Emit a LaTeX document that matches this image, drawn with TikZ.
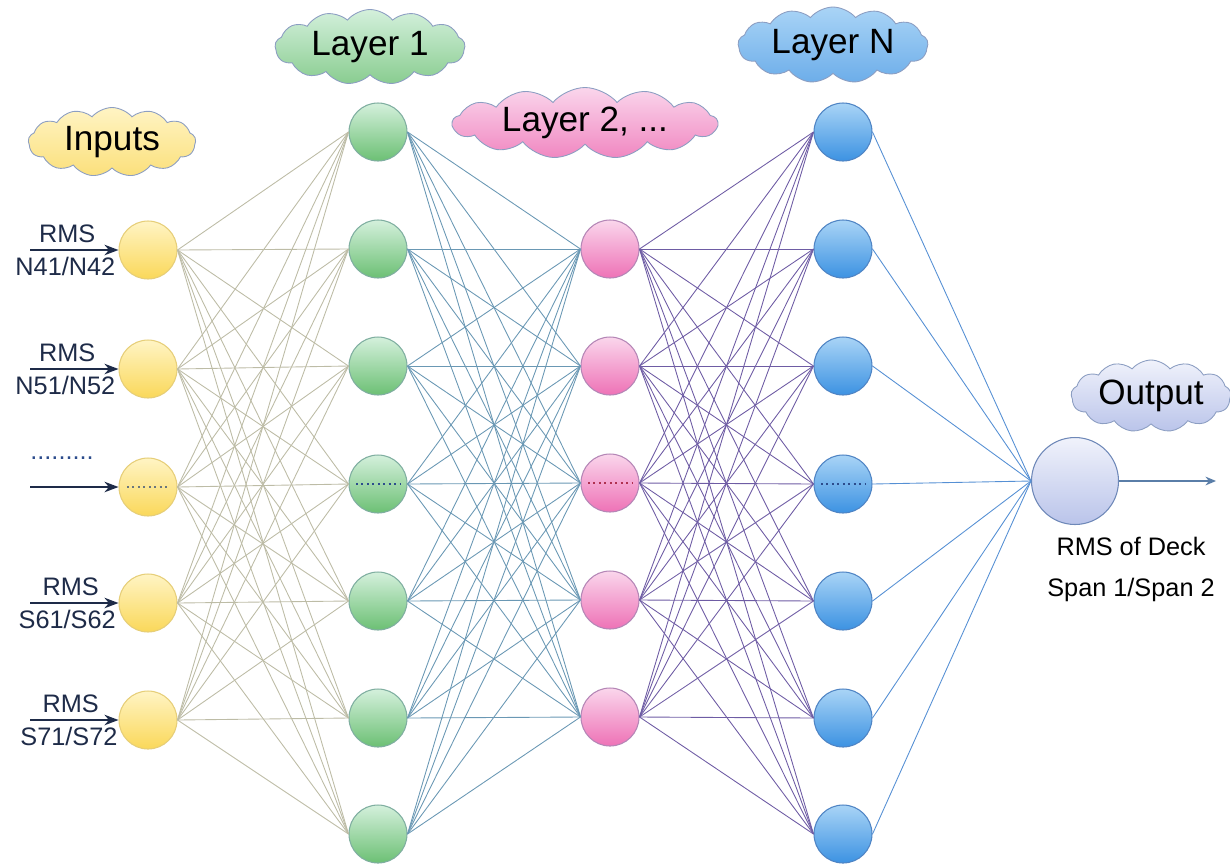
\documentclass[tikz,border=0pt]{standalone}
\usepackage{fontspec}
\setmainfont{Liberation Sans}
\usetikzlibrary{shapes.symbols,arrows.meta,positioning}

\definecolor{yeltop}{HTML}{FFF4C4}
\definecolor{yelbot}{HTML}{FAD85A}
\definecolor{yelrim}{HTML}{E6CE78}
\definecolor{grntop}{HTML}{D4F0DC}
\definecolor{grnbot}{HTML}{6CC074}
\definecolor{grnrim}{HTML}{7FAEA0}
\definecolor{pnktop}{HTML}{FAD6EC}
\definecolor{pnkbot}{HTML}{EE72B6}
\definecolor{pnkrim}{HTML}{B486B6}
\definecolor{blutop}{HTML}{A9D4F6}
\definecolor{blubot}{HTML}{3C92E2}
\definecolor{blurim}{HTML}{4F84C4}
\definecolor{lavtop}{HTML}{F0F2FB}
\definecolor{lavbot}{HTML}{BAC4EA}
\definecolor{lavrim}{HTML}{6E88B8}
\definecolor{cloudrim}{HTML}{8C9EC2}
\definecolor{wirea}{HTML}{BDBCA6}
\definecolor{wireb}{HTML}{6A98B4}
\definecolor{wirec}{HTML}{6E5CA4}
\definecolor{wired}{HTML}{5690D4}
\definecolor{inkarrow}{HTML}{1E2B48}
\definecolor{outarrow}{HTML}{5A7EA8}
\definecolor{dotblue}{HTML}{2C4C8C}
\definecolor{dotred}{HTML}{B03050}

\begin{document}
\begin{tikzpicture}[x=0.02cm,y=-0.02cm,
  neuron/.style={circle,line width=0.6pt,minimum size=1.16cm,inner sep=0pt},
  yelnode/.style={neuron,draw=yelrim,top color=yeltop,bottom color=yelbot},
  grnnode/.style={neuron,draw=grnrim,top color=grntop,bottom color=grnbot},
  pnknode/.style={neuron,draw=pnkrim,top color=pnktop,bottom color=pnkbot},
  blunode/.style={neuron,draw=blurim,top color=blutop,bottom color=blubot},
  bubble/.style={cloud,cloud puffs=13,cloud puff arc=100,cloud ignores aspect,draw=cloudrim,line width=0.5pt,
    inner sep=0pt,font=\fontsize{20}{24}\selectfont},
  lbl/.style={font=\fontsize{14.4}{17}\selectfont},
  feed/.style={-{Stealth[length=8pt,width=6pt]},line width=1.1pt,inkarrow},
  wire/.style={line width=0.5pt},
  gap/.style={dotted,line width=1.1pt}]
\useasboundingbox (0,0) rectangle (1230,863);

% titles
\node[bubble,top color=yeltop,bottom color=yelbot!80,minimum width=3.35cm,minimum height=1.38cm] (tin) at (112,142) {Inputs};
\node[bubble,top color=grntop,bottom color=grnbot!80,minimum width=3.8cm,minimum height=1.5cm] (tl1) at (370,47) {Layer 1};
\node[bubble,top color=pnktop,bottom color=pnkbot!85,minimum width=5.3cm,minimum height=1.42cm] (tl2) at (585,123) {Layer 2, ...};
\node[bubble,top color=blutop,bottom color=blubot!75,minimum width=3.8cm,minimum height=1.52cm] (tln) at (833,45) {Layer N};
\node[bubble,top color=lavtop,bottom color=lavbot,minimum width=3.2cm,minimum height=1.44cm] (tout) at (1151,396) {Output};

% neurons
\foreach \y [count=\i] in {250,369,487,603,720}
  \node[yelnode] (in\i) at (148,\y) {};
\foreach \y [count=\i] in {132,249,366,484,601,718,834}
  \node[grnnode] (ha\i) at (378,\y) {};
\foreach \y [count=\i] in {249,366,483,600,717}
  \node[pnknode] (hb\i) at (610,\y) {};
\foreach \y [count=\i] in {132,249,366,484,601,718,834}
  \node[blunode] (hn\i) at (843,\y) {};
\node[neuron,minimum size=1.74cm,draw=lavrim,top color=lavtop,bottom color=lavbot] (out) at (1075,481) {};

% weights
\foreach \i in {1,...,5}
  \foreach \j in {1,...,7}
    \draw[wire,wirea] (in\i.east) -- (ha\j.west);
\foreach \i in {1,...,7}
  \foreach \j in {1,...,5}
    \draw[wire,wireb] (ha\i.east) -- (hb\j.west);
\foreach \i in {1,...,5}
  \foreach \j in {1,...,7}
    \draw[wire,wirec] (hb\i.east) -- (hn\j.west);
\foreach \i in {1,...,7}
  \draw[wire,wired] (hn\i.east) -- (out.west);

% inputs
\coordinate (src1) at (30,250);
\coordinate (src2) at (30,369);
\coordinate (src3) at (30,487);
\coordinate (src4) at (30,603);
\coordinate (src5) at (30,720);
\draw[feed] (src1) -- node[lbl,above,pos=.42]{RMS} node[lbl,below,pos=.4]{N41/N42} (in1);
\draw[feed] (src2) -- node[lbl,above,pos=.42]{RMS} node[lbl,below,pos=.4]{N51/N52} (in2);
\draw[feed] (src3) -- (in3);
\draw[feed] (src4) -- node[lbl,above,pos=.46]{RMS} node[lbl,below,pos=.42]{S61/S62} (in4);
\draw[feed] (src5) -- node[lbl,above,pos=.46]{RMS} node[lbl,below,pos=.44]{S71/S72} (in5);
\node[lbl,dotblue] (dots) at (62,458) {.........};

% skipped neurons
\draw[gap,dotblue!70!yelbot] ([xshift=-0.42cm]in3.center) -- ([xshift=0.42cm]in3.center);
\draw[gap,dotblue] ([xshift=-0.44cm]ha4.center) -- ([xshift=0.44cm]ha4.center);
\draw[gap,dotred] ([xshift=-0.44cm]hb3.center) -- ([xshift=0.44cm]hb3.center);
\draw[gap,dotblue] ([xshift=-0.44cm]hn4.center) -- ([xshift=0.44cm]hn4.center);

% output
\coordinate (res) at (1216,481);
\draw[-{Stealth[length=6pt,width=5pt]},line width=0.8pt,outarrow] (out) -- (res);
\node[lbl] (deck) at (1131,546) {RMS of Deck};
\node[lbl,below=6pt of deck] (span) {Span 1/Span 2};
\end{tikzpicture}
\end{document}
